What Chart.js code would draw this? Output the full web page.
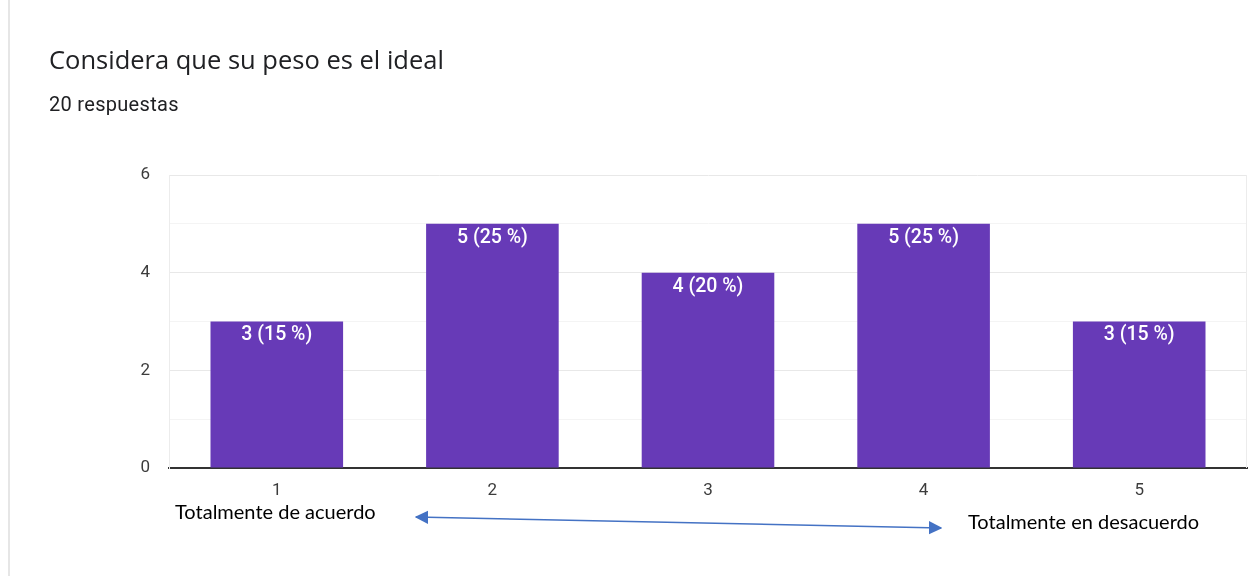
<!DOCTYPE html>
<html>
<head>
<meta charset="utf-8">
<script src="https://cdn.jsdelivr.net/npm/chart.js@4/dist/chart.umd.min.js"></script>
<style>
  html, body { margin: 0; padding: 0; background: #fff; }
  #wrap { position: relative; width: 1249px; height: 576px; overflow: hidden; }
  #chart { position: absolute; left: 0; top: 0; }
  .card-edge { position: absolute; left: 8px; top: 0; width: 2px; height: 576px; background: #e6e6e6; }
  .title { position: absolute; left: 49px; top: 42px; font-family: "Open Sans", Roboto, sans-serif; font-size: 25.5px; line-height: 35px; color: #202124; white-space: nowrap; }
  .sub { position: absolute; left: 49px; top: 92px; font-family: Roboto, sans-serif; font-size: 20px; line-height: 24px; letter-spacing: 0.3px; color: #202124; white-space: nowrap; }
  .note { position: absolute; font-family: Lato, "Open Sans", sans-serif; font-size: 20px; line-height: 24px; color: #000; white-space: nowrap; }
  svg { position: absolute; left: 0; top: 0; }
</style>
</head>
<body>
<div id="wrap">
  <canvas id="chart" width="1249" height="576"></canvas>
  <div class="card-edge"></div>
  <div class="title">Considera que su peso es el ideal</div>
  <div class="sub">20 respuestas</div>
  <div class="note" style="left:175px; top:499px;">Totalmente de acuerdo</div>
  <div class="note" style="left:968px; top:509px;">Totalmente en desacuerdo</div>
  <svg width="1249" height="576">
    <defs>
      <marker id="head" viewBox="0 0 10 10" refX="9" refY="5" markerWidth="9" markerHeight="9" orient="auto-start-reverse">
        <path d="M0,0 L10,5 L0,10 z" fill="#4472c4"/>
      </marker>
    </defs>
    <line x1="416" y1="517" x2="941" y2="528" stroke="#4472c4" stroke-width="1.5" marker-start="url(#head)" marker-end="url(#head)"/>
  </svg>
</div>
<script>
// Likert answers (1 = totalmente de acuerdo ... 5 = totalmente en desacuerdo)
const categories = ['1', '2', '3', '4', '5'];
const responses = [3, 5, 4, 5, 3];
const yTickLabels = [0, 2, 4, 6];

const totalResponses = responses.reduce((a, b) => a + b, 0);

// Count + percentage printed just inside the top of each bar
const barValueLabels = {
  id: 'barValueLabels',
  afterDatasetsDraw(chart) {
    const ctx = chart.ctx;
    const meta = chart.getDatasetMeta(0);
    ctx.save();
    ctx.fillStyle = '#ffffff';
    ctx.font = '500 19.5px Roboto, sans-serif';
    ctx.textAlign = 'center';
    ctx.textBaseline = 'middle';
    meta.data.forEach((bar, i) => {
      const v = responses[i];
      const pct = Math.round(v / totalResponses * 100);
      ctx.fillText(v + ' (' + pct + ' %)', bar.x, bar.y + 14);
    });
    ctx.restore();
  }
};

// Thin frame line on the right side of the plot
const plotFrame = {
  id: 'plotFrame',
  beforeDatasetsDraw(chart) {
    const { ctx, chartArea } = chart;
    ctx.save();
    ctx.strokeStyle = '#ececec';
    ctx.lineWidth = 1;
    ctx.beginPath();
    ctx.moveTo(chartArea.right - 0.5, chartArea.top);
    ctx.lineTo(chartArea.right - 0.5, chartArea.bottom);
    ctx.stroke();
    ctx.restore();
  }
};

new Chart(document.getElementById('chart'), {
  type: 'bar',
  data: {
    labels: categories,
    datasets: [{
      data: responses,
      backgroundColor: '#673ab7',
      borderWidth: 0,
      barPercentage: 0.615,
      categoryPercentage: 1.0
    }]
  },
  options: {
    responsive: false,
    animation: false,
    layout: { padding: { top: 175, left: 0, right: 2, bottom: 68 } },
    plugins: {
      legend: { display: false },
      tooltip: { enabled: false }
    },
    scales: {
      x: {
        grid: { display: false },
        border: { color: '#333333', width: 2 },
        ticks: { color: '#3c3c3c', font: { family: 'Roboto, sans-serif', size: 17 }, padding: 5 },
        afterFit(scale) { scale.height = 40; }
      },
      y: {
        min: 0,
        max: 6,
        ticks: {
          stepSize: 1,
          color: '#3c3c3c',
          font: { family: 'Roboto, sans-serif', size: 17 },
          padding: 19,
          callback: (v) => yTickLabels.includes(v) ? String(v) : ''
        },
        grid: {
          drawTicks: false,
          color: (c) => (c.tick && c.tick.value % 2 === 0) ? '#e8e8e8' : '#f4f4f4',
          lineWidth: 1
        },
        border: { color: '#ececec', width: 1 },
        afterFit(scale) { scale.width = 169; }
      }
    }
  },
  plugins: [barValueLabels, plotFrame]
});
</script>
</body>
</html>
